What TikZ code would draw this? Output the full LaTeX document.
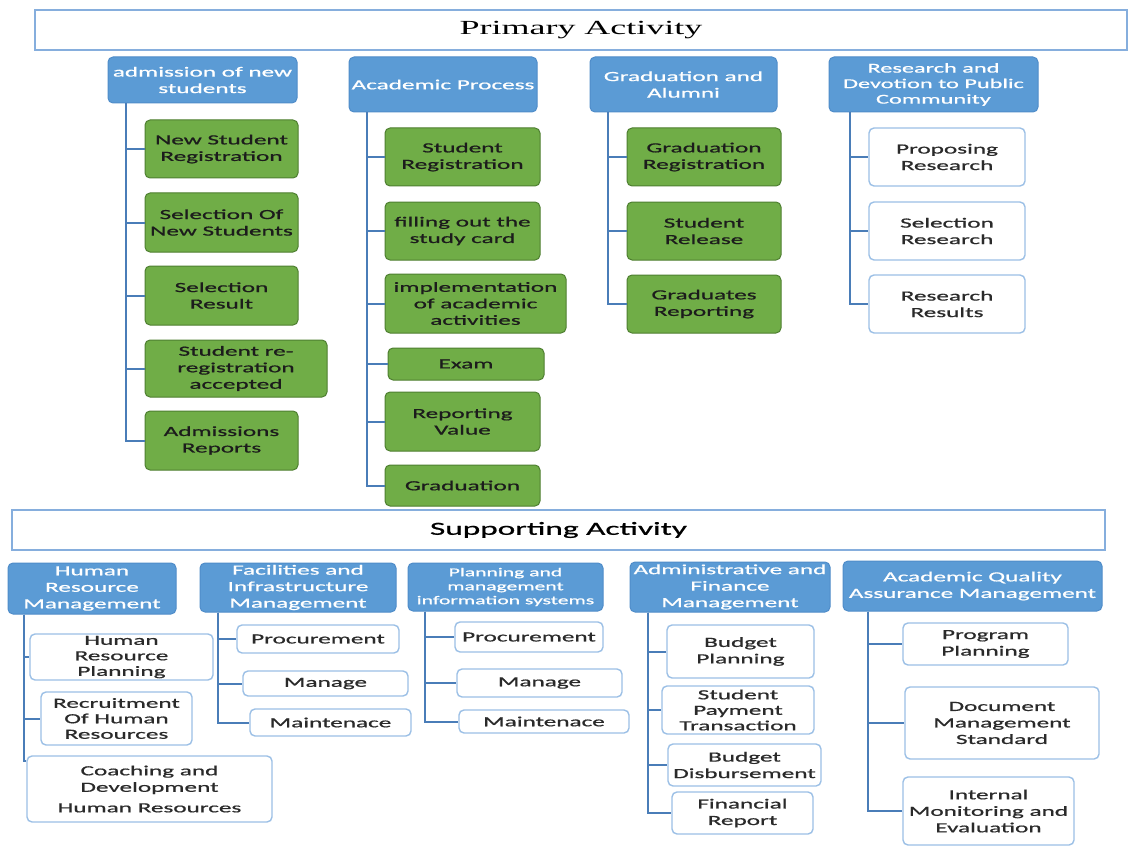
\documentclass[tikz,border=0pt]{standalone}
\usepackage{fontspec}
\setmainfont{Carlito}[FakeStretch=1.8, FakeBold=0.8]
\newfontfamily\titleserif{Liberation Serif}[FakeStretch=1.8]
\definecolor{hblue}{HTML}{5B9BD5}
\definecolor{hdraw}{HTML}{4F8CC9}
\definecolor{gfill}{HTML}{70AD47}
\definecolor{gdraw}{HTML}{4E7F30}
\definecolor{gtext}{HTML}{1C1C1C}
\definecolor{wdraw}{HTML}{9CC0E6}
\definecolor{wtext}{HTML}{2A2A2A}
\definecolor{cline}{HTML}{4A7DB8}
\definecolor{tdraw}{HTML}{86AEDD}
\tikzset{
  box/.style={rounded corners=5pt, inner sep=0pt, align=center, font=\fontsize{14}{16.5}\selectfont},
  sz/.style 2 args={minimum width=#1pt, minimum height=#2pt},
  hdr/.style={box, fill=hblue, draw=hdraw, line width=1pt, text=white},
  gbox/.style={box, fill=gfill, draw=gdraw, line width=1pt, text=gtext},
  wbox/.style={box, fill=white, draw=wdraw, line width=1.4pt, text=wtext},
  titlebox/.style={draw=tdraw, line width=1.6pt, fill=white, inner sep=0pt},
  conn/.style={draw=cline, line width=2pt}
}
\begin{document}
\begin{tikzpicture}[x=1pt, y=-1pt]
\useasboundingbox[fill=white] (0,0) rectangle (1133,848);

% ---------- Primary activity ----------
\node[titlebox, sz={1092}{40}, font=\titleserif\fontsize{20}{24}\selectfont] (prim) at (581,30) {Primary Activity};

\node[hdr, sz={189}{46}] (P1) at (202.5,80) {admission of new\\students};
\node[hdr, sz={188}{55}] (P2) at (443,84.5) {Academic Process};
\node[hdr, sz={187}{55}] (P3) at (683.5,84.5) {Graduation and\\Alumni};
\node[hdr, sz={209}{55}, font=\fontsize{13.5}{15.5}\selectfont] (P4) at (933.5,84.5) {Research and\\Devotion to Public\\Community};

\node[gbox, sz={153}{58}] (a1) at (221.5,149) {New Student\\Registration};
\node[gbox, sz={153}{59}] (a2) at (221.5,222.5) {Selection Of\\New Students};
\node[gbox, sz={153}{59}] (a3) at (221.5,295.5) {Selection\\Result};
\node[gbox, sz={182}{57}] (a4) at (236,368.5) {Student re-\\registration\\accepted};
\node[gbox, sz={153}{59}] (a5) at (221.5,440.5) {Admissions\\Reports};

\node[gbox, sz={155}{58}] (b1) at (462.5,157) {Student\\Registration};
\node[gbox, sz={155}{58}] (b2) at (462.5,231) {filling out the\\study card};
\node[gbox, sz={181}{59}] (b3) at (475.5,303.5) {implementation\\of academic\\activities};
\node[gbox, sz={156}{32}] (b4) at (466,364) {Exam};
\node[gbox, sz={155}{59}] (b5) at (462.5,421.5) {Reporting\\Value};
\node[gbox, sz={155}{41}] (b6) at (462.5,485.5) {Graduation};

\node[gbox, sz={154}{58}] (c1) at (704,157) {Graduation\\Registration};
\node[gbox, sz={154}{58}] (c2) at (704,231) {Student\\Release};
\node[gbox, sz={154}{58}] (c3) at (704,304) {Graduates\\Reporting};

\node[wbox, sz={156}{58}] (d1) at (947,157) {Proposing\\Research};
\node[wbox, sz={156}{58}] (d2) at (947,231) {Selection\\Research};
\node[wbox, sz={156}{58}] (d3) at (947,304) {Research\\Results};

\foreach \c in {a1,a2,a3,a4,a5} \draw[conn] ([xshift=18pt]P1.south west) |- (\c.west);
\foreach \c in {b1,b2,b3,b4,b5,b6} \draw[conn] ([xshift=18pt]P2.south west) |- (\c.west);
\foreach \c in {c1,c2,c3} \draw[conn] ([xshift=18pt]P3.south west) |- (\c.west);
\foreach \c in {d1,d2,d3} \draw[conn] ([xshift=21pt]P4.south west) |- (\c.west);

% ---------- Supporting activity ----------
\node[titlebox, sz={1093}{40}, font=\fontsize{18.5}{22}\selectfont] (supp) at (558.5,530) {Supporting Activity};

\node[hdr, sz={168}{51}] (S1) at (92,588.5) {Human\\Resource\\Management};
\node[hdr, sz={196}{49}] (S2) at (298,587.5) {Facilities and\\Infrastructure\\Management};
\node[hdr, sz={195}{48}, font=\fontsize{12}{14}\selectfont] (S3) at (505.5,587) {Planning and\\management\\information systems};
\node[hdr, sz={200}{50}] (S4) at (730,587) {Administrative and\\Finance\\Management};
\node[hdr, sz={259}{50}] (S5) at (972.5,586) {Academic Quality\\Assurance Management};

\node[wbox, sz={183}{46}, font=\fontsize{14}{15.5}\selectfont] (e1) at (121.5,657) {Human\\Resource\\Planning};
\node[wbox, sz={151}{53}, font=\fontsize{14}{15.5}\selectfont] (e2) at (116.5,718.5) {Recruitment\\Of Human\\Resources};
\node[wbox, sz={245}{66}] (e3) at (149.5,789) {Coaching and\\Development\\[4pt]Human Resources};

\node[wbox, sz={162}{28}] (f1) at (318,639) {Procurement};
\node[wbox, sz={165}{25}] (f2) at (325.5,683.5) {Manage};
\node[wbox, sz={161}{27}] (f3) at (330.5,722.5) {Maintenace};

\node[wbox, sz={148}{30}] (g1) at (529,637) {Procurement};
\node[wbox, sz={165}{28}] (g2) at (539.5,683) {Manage};
\node[wbox, sz={170}{23}] (g3) at (544,721.5) {Maintenace};

\node[wbox, sz={147}{53}] (h1) at (740.5,651.5) {Budget\\Planning};
\node[wbox, sz={152}{48}, font=\fontsize{14}{15.5}\selectfont] (h2) at (738,710) {Student\\Payment\\Transaction};
\node[wbox, sz={153}{42}] (h3) at (744.5,765) {Budget\\Disbursement};
\node[wbox, sz={141}{42}] (h4) at (742.5,813) {Financial\\Report};

\node[wbox, sz={165}{42}] (i1) at (985.5,644) {Program\\Planning};
\node[wbox, sz={194}{72}] (i2) at (1002,723) {Document\\Management\\Standard};
\node[wbox, sz={171}{68}] (i3) at (988.5,811) {Internal\\Monitoring and\\Evaluation};

\foreach \c in {e1,e2} \draw[conn] ([xshift=16pt]S1.south west) |- (\c.west);
\draw[conn] ([xshift=16pt]S1.south west) |- ([yshift=-6pt]e3.north west);
\foreach \c in {f1,f2,f3} \draw[conn] ([xshift=18pt]S2.south west) |- (\c.west);
\foreach \c in {g1,g2,g3} \draw[conn] ([xshift=17pt]S3.south west) |- (\c.west);
\foreach \c in {h1,h2,h3,h4} \draw[conn] ([xshift=18pt]S4.south west) |- (\c.west);
\foreach \c in {i1,i2,i3} \draw[conn] ([xshift=25pt]S5.south west) |- (\c.west);
\end{tikzpicture}
\end{document}
